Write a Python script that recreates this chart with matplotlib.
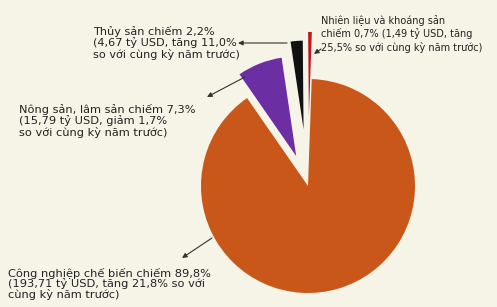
import matplotlib
matplotlib.use('Agg')
from matplotlib import pyplot as plt

# du lieu: co cau xuat khau theo nhom hang
nhom = ['Nhiên liệu và khoáng sản', 'Thủy sản', 'Nông sản, lâm sản', 'Công nghiệp chế biến']
ty_le = [0.7, 2.2, 7.3, 89.8]
nhan = [
    'Nhiên liệu và khoáng sản\nchiếm 0,7% (1,49 tỷ USD, tăng\n25,5% so với cùng kỳ năm trước)',
    'Thủy sản chiếm 2,2%\n(4,67 tỷ USD, tăng 11,0%\nso với cùng kỳ năm trước)',
    'Nông sản, lâm sản chiếm 7,3%\n(15,79 tỷ USD, giảm 1,7%\nso với cùng kỳ năm trước)',
    'Công nghiệp chế biến chiếm 89,8%\n(193,71 tỷ USD, tăng 21,8% so với\ncùng kỳ năm trước)',
]

mau = ['#c4141c', '#111111', '#6b2ea3', '#c9571a']
explode = [0.65, 0.53, 0.30, 0.0]
ban_kinh = [0.79, 0.83, 0.93, 1.0]
nen = '#f6f3e7'

W, H = 497, 307
cx, cy, S = 308, 186, 107  # tam va ban kinh pie (pixel)

fig = plt.figure(figsize=(W / 100, H / 100), dpi=100, facecolor=nen)
ax = fig.add_axes([0, 0, 1, 1])
ax.set_facecolor(nen)

wedges, _ = ax.pie(ty_le, colors=mau, explode=explode, startangle=88,
                   counterclock=True, radius=1, wedgeprops={'linewidth': 0})
for w, s in zip(wedges, ban_kinh):
    w.set_radius(w.r * s)

ax.set_aspect('auto')
ax.set_xlim(-cx / S, (W - cx) / S)
ax.set_ylim(-(H - cy) / S, cy / S)
ax.axis('off')


def px(x, y):
    return (x / W, 1 - y / H)


font = dict(family=['DejaVu Sans'], color='#222222')

# (vi tri chu, dau mui ten, goc mui ten, co chu, gian dong)
bo_tri = [
    ((321, 34), (314, 54), (321, 49), 7.0, 1.3),
    ((93, 43), (238, 43), (287, 43), 8.1, 1.1),
    ((19, 121), (207, 97), (245, 77), 8.2, 1.05),
    ((8, 284), (182, 258), (212, 238), 8.2, 1.0),
]

for txt, (tpos, head, tail, fs, ls) in zip(nhan, bo_tri):
    ax.text(*px(*tpos), txt, transform=ax.transAxes, ha='left', va='center',
            fontsize=fs, linespacing=ls, **font)
    ax.annotate('', xy=px(*head), xycoords='axes fraction',
                xytext=px(*tail), textcoords='axes fraction',
                arrowprops=dict(arrowstyle='-|>', color='#333333', lw=0.8,
                                mutation_scale=7, shrinkA=0, shrinkB=0))

fig.savefig('out.png', dpi=100, facecolor=nen)
